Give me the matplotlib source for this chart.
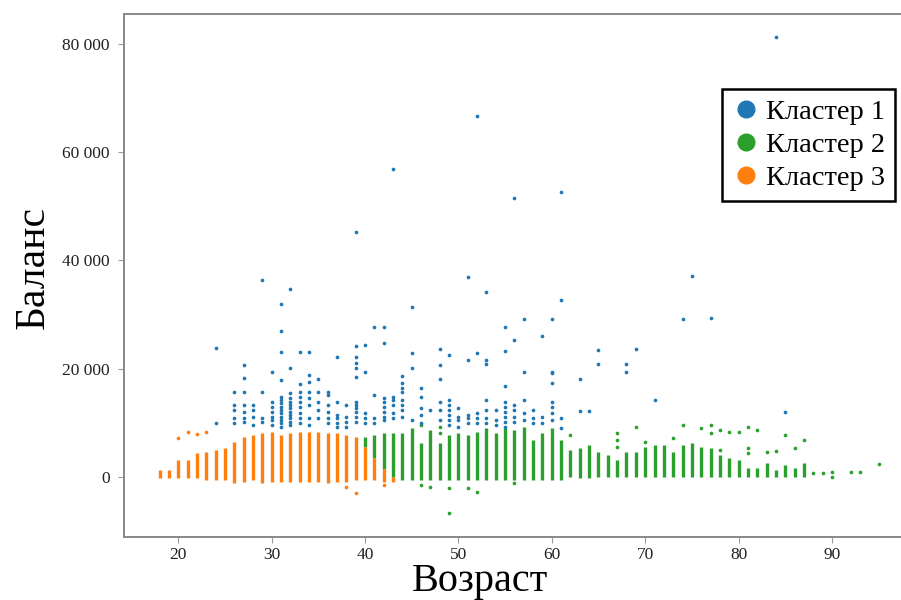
import matplotlib.pyplot as plt
from matplotlib.ticker import FuncFormatter
from matplotlib.lines import Line2D

plt.rcParams['font.family'] = ['Liberation Serif', 'DejaVu Serif']

BLUE, GREEN, ORANGE = '#1f77b4', '#2ca02c', '#ff7f0e'

# dense columns: one per integer age, lowest and highest balance in the column
orange_ages = [18, 19, 20, 21, 22, 23, 24, 25, 26, 27, 28, 29, 30,
               31, 32, 33, 34, 35, 36, 37, 38, 39, 40, 41, 42, 43]
orange_lo = [-250, -250, -250, -250, -250, -550, -550, -550, -1170, -860, -550, -1170, -860,
             -860, -860, -860, -860, -860, -1170, -860, -860, -550, -550, -550, -860, -860]
orange_hi = [1300, 1300, 3140, 3140, 4370, 4680, 4990, 5290, 6530, 7450, 7760, 8070, 8370,
             7760, 8070, 8370, 8370, 8370, 8070, 8070, 7760, 7450, 5500, 3500, 1500, 0]

green_ages = list(range(40, 88))
green_lo = [5500, 3500, 1500, 0, -550, -550, -550, -550, -550, -550, -550, -550, -550, -550,
            -550, -550, -550, -550, -550, -550, -550, -550, 60, -250, -250, 60, 60, 60, 60, 60,
            60, 60, 60, 60, 60, 60, 60, 60, 60, 60, 60, 60, 60, 60, 60, 60, 60, 60]
green_hi = [7450, 7760, 8070, 8070, 8070, 8990, 6220, 8680, 6220, 7760, 8070, 7760, 8370, 8990,
            8070, 8990, 8680, 9300, 6830, 8070, 8990, 6830, 4990, 5290, 5910, 4680, 4060, 3140,
            4680, 4680, 5600, 5910, 5910, 4680, 5910, 6220, 5600, 5290, 4060, 3450, 3140, 1600,
            1600, 2520, 1290, 2220, 1600, 2520]

# single points outside the columns
orange_pt_age = [20, 21, 22, 23, 38, 39, 42]
orange_pt_bal = [7140, 8370, 8000, 8370, -1800, -3000, -1500]

green_pt_age = [46, 48, 48, 62, 67, 67, 67, 69, 70, 73, 74, 76, 77, 77, 78, 78, 79, 80, 81, 81,
                81, 82, 83, 84, 85, 86, 87, 88, 89, 90, 90, 92, 93, 95,
                46, 47, 49, 49, 51, 52, 56]
green_pt_bal = [9600, 9300, 8070, 7760, 8070, 6830, 5600, 9300, 6530, 7140, 9600, 8990, 9600,
                8070, 8680, 4990, 8370, 8370, 9300, 5290, 4370, 8680, 4680, 4870, 7760, 5290,
                6830, 680, 680, 985, 0, 985, 985, 2340,
                -1500, -1800, -2090, -6710, -2090, -2710, -1170]

blue_by_age = {
    24: [23900, 9910],
    26: [15760, 13300, 12370, 10840, 9910],
    27: [20630, 18230, 15760, 13300, 12060, 10840, 10220],
    28: [13300, 12370, 11140, 9600],
    29: [36300, 15760, 10840, 10220],
    30: [19400, 13910, 12990, 12060, 11140, 10530, 9600],
    31: [31900, 27000, 23000, 17920, 14840, 14220, 13610, 12990, 12370, 11760, 11140, 10530,
         9910, 9300],
    32: [34700, 20070, 15450, 14530, 13910, 13300, 12680, 12060, 11450, 10840, 10220, 9600],
    33: [23000, 17120, 15760, 14840, 13910, 12990, 11760, 10840, 9910],
    34: [23150, 18840, 17610, 15760, 14530, 13300, 10840, 9600],
    35: [18160, 15760, 13910, 12370, 10840],
    36: [15760, 15140, 13300, 12060, 10840, 9910],
    37: [22220, 13910, 11450, 10840, 9910, 9300],
    38: [13300, 11140, 10220, 9300],
    39: [45200, 24250, 22220, 21000, 20070, 18530, 13910, 13300, 12680, 12060, 11140, 10220],
    40: [24440, 19390, 11760, 10840, 9910],
    41: [27700, 15140, 10840, 9910],
    42: [27700, 24810, 14530, 13910, 12990, 12060, 11140, 10530],
    43: [56900, 14840, 14220, 13300, 11760, 10840],
    44: [18650, 17300, 16380, 15760, 14220, 13300, 12370, 11140],
    45: [31460, 22840, 20190, 10530],
    46: [16500, 14720, 12680, 11450, 9910],
    47: [12370],
    48: [23580, 20690, 18040, 13910, 12370, 10530],
    49: [22530, 14220, 13300, 12370, 11450, 10530, 9600],
    50: [12680, 11140, 10530, 9300],
    51: [37000, 21610, 11450, 10830, 10000],
    52: [66700, 22840, 11760, 10830, 9910],
    53: [34230, 21610, 20810, 14220, 12370, 10830, 9910],
    54: [12370, 10530, 9600],
    55: [27700, 23200, 16870, 13910, 12990, 12070, 11140, 10220, 9300],
    56: [51500, 25300, 13300, 12370, 11140, 10220],
    57: [29240, 19330, 14220, 11760, 10530],
    58: [12370, 10830, 9910],
    59: [26000, 11140, 9910],
    60: [29240, 19450, 19150, 17300, 13910, 12990, 11760, 10530],
    61: [52600, 32700, 10830, 9000],
    63: [18040, 12250],
    64: [12250],
    65: [23460, 20810],
    68: [20810, 19330],
    69: [23640],
    71: [14220],
    74: [29100],
    75: [37200],
    77: [29400],
    84: [81200],
    85: [12070],
}

blue_age = [a for a, vals in blue_by_age.items() for _ in vals]
blue_bal = [v for vals in blue_by_age.values() for v in vals]

fig = plt.figure(figsize=(9.01, 6.0), dpi=100)
ax = fig.add_axes([123.6 / 901, 63 / 600, 791 / 901, 523.5 / 600])

ax.vlines(green_ages, green_lo, green_hi, color=GREEN, lw=2.4, zorder=2)
ax.scatter(green_pt_age, green_pt_bal, s=7, color=GREEN, lw=0, zorder=2)
ax.vlines(orange_ages, orange_lo, orange_hi, color=ORANGE, lw=2.4, zorder=3)
ax.scatter(orange_pt_age, orange_pt_bal, s=7, color=ORANGE, lw=0, zorder=3)
ax.scatter(blue_age, blue_bal, s=7, color=BLUE, lw=0, zorder=4)

ax.set_xlim(14.15, 98.85)
ax.set_ylim(-11100, 85600)
ax.set_xticks(range(20, 100, 10))
ax.set_yticks(range(0, 80001, 20000))
ax.yaxis.set_major_formatter(FuncFormatter(lambda v, p: f'{int(v):,}'.replace(',', ' ')))
ax.tick_params(labelsize=12.5, length=4, color='#999999', labelcolor='#222222')
ax.tick_params(axis='y', pad=6)
for s in ax.spines.values():
    s.set_color('#888888')
    s.set_linewidth(1.4)

ax.set_xlabel('Возраст', fontsize=29)
ax.xaxis.set_label_coords(0.4506, -0.050)
ax.set_ylabel('Баланс', fontsize=30)
ax.yaxis.set_label_coords(-0.089, 0.515)

handles = [Line2D([], [], ls='', marker='o', ms=12, color=c) for c in (BLUE, GREEN, ORANGE)]
leg = ax.legend(handles, ['Кластер 1', 'Кластер 2', 'Кластер 3'], loc='upper left',
                bbox_to_anchor=(0.7565, 0.856), bbox_transform=ax.transAxes, borderaxespad=0,
                fontsize=20.5, fancybox=False, framealpha=1, handletextpad=0.2,
                handlelength=1.0, labelspacing=0.25, borderpad=0.35)
leg.get_frame().set_edgecolor('black')
leg.get_frame().set_linewidth(1.8)

fig.savefig('out.png', dpi=100)
